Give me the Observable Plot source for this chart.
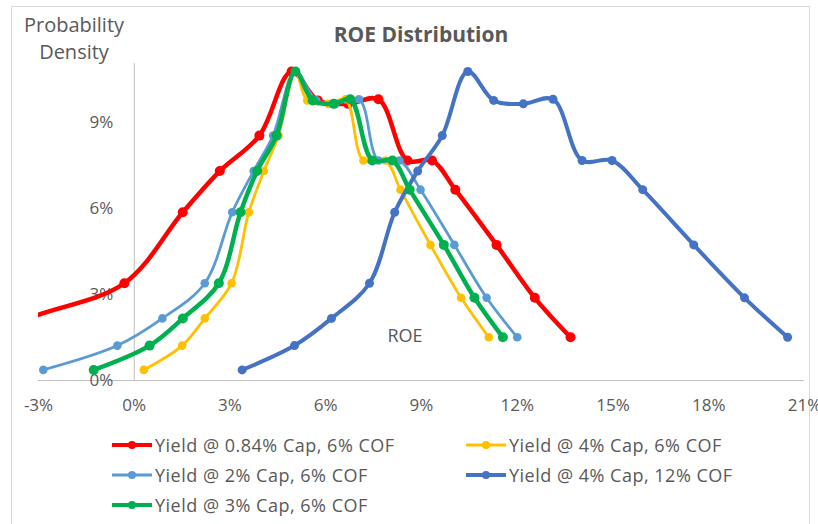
<!DOCTYPE html>
<html><head><meta charset="utf-8">
<script src="https://cdn.jsdelivr.net/npm/d3@7"></script>
<script src="https://cdn.jsdelivr.net/npm/@observablehq/plot@0.6"></script>
<style>
body{margin:0;background:#fff;}
#wrap{position:relative;width:818px;height:524px;overflow:hidden;background:#fff;font-family:"Open Sans",sans-serif;color:#595959;}
#border{position:absolute;left:11px;top:6px;width:799px;height:560px;border:1px solid #d9d9d9;box-sizing:border-box;}
#chart{position:absolute;left:0;top:0;}
#title{position:absolute;left:0;width:842px;top:24px;text-align:center;font-weight:bold;font-size:21px;line-height:21px;color:#595959;}
#ylab{position:absolute;left:0;width:148px;top:11px;text-align:center;font-size:20px;line-height:27px;color:#595959;}
#roe{position:absolute;left:370px;width:70px;top:323px;text-align:center;font-size:18px;line-height:24px;color:#595959;}
.item{position:absolute;display:flex;align-items:center;height:30px;white-space:nowrap;font-size:18px;letter-spacing:0.5px;color:#595959;}
.item span{margin-left:3px;}
</style></head>
<body>
<div id="wrap">
  <div id="border"></div>
  <div id="chart"></div>
  <div id="title">ROE Distribution</div>
  <div id="ylab">Probability<br>Density</div>
  <div id="roe">ROE</div>
</div>
<script>
// Tick values
const xTicks = [-3, 0, 3, 6, 9, 12, 15, 18, 21];
const yTicks = [0, 3, 6, 9];

// Series names and colors (legend order)
const seriesNames = [
  "Yield @ 0.84% Cap, 6% COF",
  "Yield @ 4% Cap, 6% COF",
  "Yield @ 2% Cap, 6% COF",
  "Yield @ 4% Cap, 12% COF",
  "Yield @ 3% Cap, 6% COF"
];
const seriesColors = ["#ff0000", "#ffc000", "#5b9bd5", "#4472c4", "#00b050"];

// Probability density (%) at each point, shared by the series
const density = [0.37, 1.22, 2.17, 3.40, 5.88, 7.32, 8.56, 10.80, 9.79, 9.67, 9.83, 7.69, 7.69, 6.67, 4.74, 2.89, 1.51];

// ROE (%) for each series
const roeCap084 = [-7.0, -5.0, -3.3, -0.31, 1.52, 2.68, 3.92, 4.93, 5.75, 6.70, 7.65, 8.56, 9.33, 10.06, 11.35, 12.55, 13.67];
const roeCap4 = [0.30, 1.50, 2.21, 3.05, 3.59, 4.06, 4.52, 5.05, 5.42, 6.08, 6.62, 7.18, 7.87, 8.34, 9.28, 10.24, 11.11];
const roeCap2 = [-2.85, -0.53, 0.88, 2.21, 3.07, 3.74, 4.35, 5.05, 5.70, 6.30, 7.04, 7.65, 8.31, 8.97, 10.03, 11.04, 12.00];
const roeCap4Cof12 = [3.38, 5.02, 6.18, 7.37, 8.16, 8.88, 9.65, 10.45, 11.26, 12.19, 13.12, 14.03, 14.97, 15.93, 17.53, 19.12, 20.47];
const roeCap3 = [-1.27, 0.48, 1.52, 2.65, 3.33, 3.85, 4.46, 5.05, 5.59, 6.25, 6.77, 7.46, 8.09, 8.63, 9.70, 10.66, 11.55];

const roeSeries = [roeCap084, roeCap4, roeCap2, roeCap4Cof12, roeCap3];
const lineWidths = [4.5, 2.8, 2.8, 4, 4.5];
const dotRadii = [5, 4.3, 4.3, 4.5, 5];

const series = seriesNames.map((name, i) => ({
  name, color: seriesColors[i], w: lineWidths[i], r: dotRadii[i],
  rows: roeSeries[i].map((x, j) => ({x, y: density[j]}))
}));

const marks = [
  Plot.ruleY([0], {stroke: "#bfbfbf", strokeWidth: 1}),
  Plot.ruleX([0], {stroke: "#bfbfbf", strokeWidth: 1}),
  Plot.text(yTicks, {x: 0, y: d => d, text: d => d + "%", dx: -21, textAnchor: "end", fontSize: 17, fill: "#595959"})
];
for (const s of series) {
  marks.push(Plot.line(s.rows, {x: "x", y: "y", stroke: s.color, strokeWidth: s.w, curve: "catmull-rom", clip: true}));
  marks.push(Plot.dot(s.rows, {x: "x", y: "y", r: s.r, fill: s.color, stroke: "none", clip: true}));
}

const plot = Plot.plot({
  width: 818, height: 420,
  marginTop: 63, marginBottom: 40, marginLeft: 38, marginRight: 14,
  style: {background: "transparent", fontFamily: "Open Sans, sans-serif", fontSize: "17px", color: "#595959"},
  x: {domain: [-3, 21], ticks: xTicks, tickFormat: d => d + "%", tickSize: 0, tickPadding: 18, label: null},
  y: {domain: [0, 11.08], axis: null},
  marks
});
document.getElementById("chart").appendChild(plot);

// Legend
const wrap = document.getElementById("wrap");
series.forEach((s, i) => {
  const col = i % 2, row = Math.floor(i / 2);
  const item = document.createElement("div");
  item.className = "item";
  item.style.left = (112 + col * 354) + "px";
  item.style.top = (445 + row * 30 - 15) + "px";
  item.innerHTML = `<svg width="40" height="14"><line x1="0" x2="40" y1="7" y2="7" stroke="${s.color}" stroke-width="${Math.min(s.w, 3.8)}"/><circle cx="20" cy="7" r="4" fill="${s.color}"/></svg><span>${s.name}</span>`;
  wrap.appendChild(item);
});
</script>
</body></html>
